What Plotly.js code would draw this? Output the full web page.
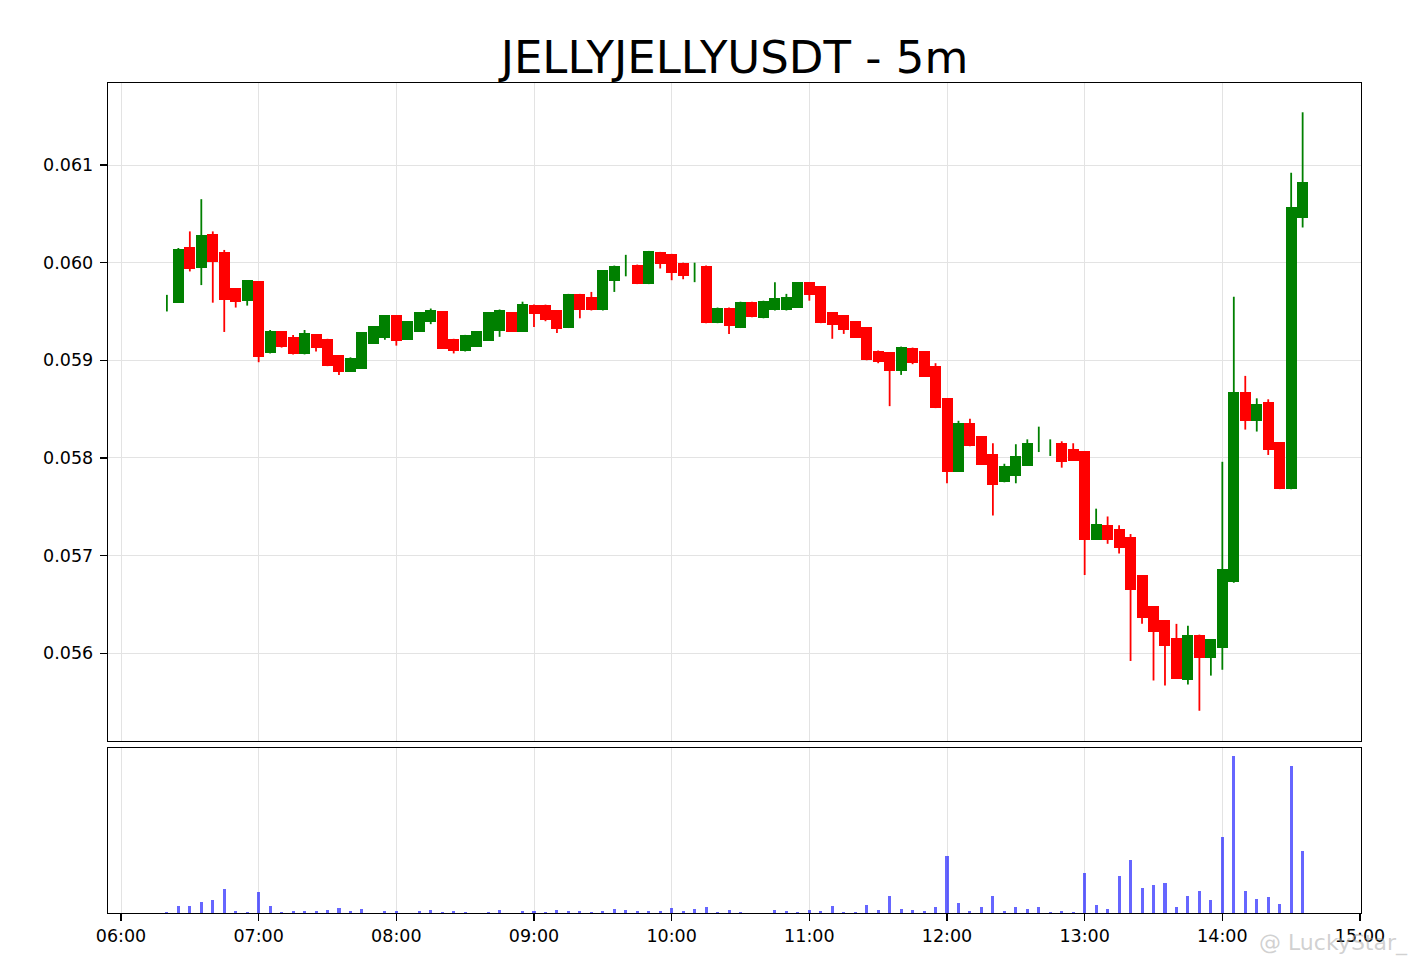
<!DOCTYPE html>
<html>
<head>
<meta charset="utf-8">
<script src="https://cdn.plot.ly/plotly-3.0.1.min.js"></script>
<style>
  html, body { margin: 0; padding: 0; background: #ffffff; }
  #chart { width: 1428px; height: 966px; }
</style>
</head>
<body>
<div id="chart"></div>
<script>
const DAY = '2025-01-01 ';
const times = [
  '06:20','06:25','06:30','06:35','06:40','06:45','06:50','06:55',
  '07:00','07:05','07:10','07:15','07:20','07:25','07:30','07:35','07:40','07:45','07:50','07:55',
  '08:00','08:05','08:10','08:15','08:20','08:25','08:30','08:35','08:40','08:45','08:50','08:55',
  '09:00','09:05','09:10','09:15','09:20','09:25','09:30','09:35','09:40','09:45','09:50','09:55',
  '10:00','10:05','10:10','10:15','10:20','10:25','10:30','10:35','10:40','10:45','10:50','10:55',
  '11:00','11:05','11:10','11:15','11:20','11:25','11:30','11:35','11:40','11:45','11:50','11:55',
  '12:00','12:05','12:10','12:15','12:20','12:25','12:30','12:35','12:40','12:45','12:50','12:55',
  '13:00','13:05','13:10','13:15','13:20','13:25','13:30','13:35','13:40','13:45','13:50','13:55',
  '14:00','14:05','14:10','14:15','14:20','14:25','14:30','14:35'
];
const openP = [
  0.05960,0.05959,0.06016,0.05995,0.06029,0.06011,0.05974,0.05961,
  0.05981,0.05907,0.05930,0.05924,0.05906,0.05927,0.05922,0.05905,0.05888,0.05891,0.05917,0.05923,
  0.05946,0.05921,0.05929,0.05939,0.05950,0.05922,0.05910,0.05914,0.05920,0.05930,0.05949,0.05929,
  0.05957,0.05957,0.05951,0.05933,0.05968,0.05965,0.05951,0.05981,0.05993,0.05998,0.05978,0.06011,
  0.06009,0.06000,0.05990,0.05997,0.05938,0.05954,0.05933,0.05960,0.05943,0.05951,0.05951,0.05954,
  0.05980,0.05976,0.05949,0.05946,0.05940,0.05934,0.05910,0.05908,0.05889,0.05913,0.05909,0.05894,
  0.05861,0.05786,0.05836,0.05822,0.05804,0.05775,0.05781,0.05792,0.05820,0.05810,0.05815,0.05809,
  0.05807,0.05716,0.05731,0.05727,0.05719,0.05680,0.05648,0.05634,0.05616,0.05573,0.05619,0.05595,
  0.05605,0.05673,0.05867,0.05838,0.05857,0.05816,0.05768,0.06046
];
const highP = [
  0.05967,0.06015,0.06032,0.06065,0.06032,0.06013,0.05974,0.05982,
  0.05981,0.05931,0.05930,0.05926,0.05931,0.05927,0.05922,0.05905,0.05903,0.05929,0.05935,0.05946,
  0.05946,0.05940,0.05949,0.05953,0.05950,0.05922,0.05926,0.05930,0.05949,0.05952,0.05949,0.05960,
  0.05957,0.05957,0.05951,0.05968,0.05968,0.05970,0.05992,0.05997,0.06008,0.05998,0.06012,0.06011,
  0.06009,0.06000,0.06000,0.05997,0.05954,0.05954,0.05960,0.05960,0.05961,0.05980,0.05968,0.05980,
  0.05980,0.05976,0.05949,0.05946,0.05940,0.05934,0.05910,0.05908,0.05914,0.05913,0.05909,0.05897,
  0.05861,0.05838,0.05840,0.05822,0.05815,0.05794,0.05814,0.05819,0.05832,0.05819,0.05817,0.05815,
  0.05807,0.05748,0.05740,0.05731,0.05722,0.05680,0.05648,0.05634,0.05630,0.05628,0.05619,0.05614,
  0.05796,0.05965,0.05884,0.05861,0.05860,0.05816,0.06092,0.06154
];
const lowP = [
  0.05950,0.05959,0.05991,0.05977,0.05959,0.05929,0.05954,0.05956,
  0.05898,0.05907,0.05913,0.05906,0.05906,0.05909,0.05894,0.05885,0.05888,0.05891,0.05917,0.05921,
  0.05915,0.05921,0.05929,0.05937,0.05912,0.05907,0.05909,0.05914,0.05920,0.05924,0.05929,0.05929,
  0.05934,0.05940,0.05928,0.05933,0.05943,0.05951,0.05951,0.05970,0.05986,0.05978,0.05978,0.05994,
  0.05982,0.05983,0.05980,0.05938,0.05938,0.05927,0.05933,0.05944,0.05943,0.05951,0.05951,0.05954,
  0.05961,0.05938,0.05922,0.05927,0.05923,0.05900,0.05897,0.05853,0.05885,0.05896,0.05883,0.05851,
  0.05774,0.05786,0.05812,0.05793,0.05741,0.05775,0.05774,0.05792,0.05806,0.05802,0.05790,0.05797,
  0.05680,0.05716,0.05712,0.05702,0.05592,0.05630,0.05572,0.05567,0.05574,0.05568,0.05541,0.05577,
  0.05583,0.05672,0.05829,0.05827,0.05803,0.05768,0.05768,0.06036
];
const closeP = [
  0.05960,0.06014,0.05994,0.06028,0.06001,0.05962,0.05960,0.05982,
  0.05903,0.05930,0.05914,0.05906,0.05928,0.05913,0.05894,0.05888,0.05902,0.05929,0.05935,0.05946,
  0.05920,0.05940,0.05949,0.05951,0.05912,0.05910,0.05926,0.05930,0.05949,0.05951,0.05929,0.05958,
  0.05947,0.05941,0.05932,0.05968,0.05951,0.05951,0.05992,0.05997,0.05993,0.05978,0.06012,0.05999,
  0.05989,0.05986,0.05990,0.05938,0.05954,0.05935,0.05960,0.05944,0.05961,0.05964,0.05965,0.05980,
  0.05967,0.05938,0.05936,0.05931,0.05923,0.05900,0.05898,0.05889,0.05914,0.05897,0.05883,0.05851,
  0.05786,0.05836,0.05812,0.05793,0.05772,0.05792,0.05802,0.05815,0.05820,0.05810,0.05796,0.05797,
  0.05716,0.05732,0.05716,0.05708,0.05665,0.05636,0.05622,0.05607,0.05574,0.05619,0.05595,0.05614,
  0.05686,0.05867,0.05838,0.05855,0.05808,0.05768,0.06057,0.06083
];
const volume = [
  0.8,4.3,4.3,7.1,8.3,15,1.5,0.9,
  13.2,4.3,0.6,1.5,1.3,1.5,2.1,3.4,1.1,2.4,0.2,1.5,
  1.5,0.2,1.3,2.1,0.9,1.1,0.6,0.3,0.6,2.1,0.3,1.1,
  1.1,0.6,2.1,1.1,1.1,0.9,1.3,2.8,2.1,1.1,1.3,1.3,
  3.4,1.1,2.6,4.1,0.6,2.1,0.6,0.1,0.1,2.1,1.1,0.4,
  2.1,1.3,4.5,0.6,0.6,5.1,1.7,11.1,2.4,2.1,1.5,4.1,
  36.5,6.6,1.5,4.1,11.1,1.3,3.8,2.6,3.8,0.9,1.5,0.6,
  25.6,5.3,2.4,23.5,33.8,16.2,17.5,18.8,3.8,11.1,14.1,8.3,
  48.3,100,14.3,9.2,10.3,5.8,93.8,39.3
];
const priceTicks = [0.056, 0.057, 0.058, 0.059, 0.060, 0.061];
const priceTickText = ['0.056', '0.057', '0.058', '0.059', '0.060', '0.061'];
const hourTicks = ['06:00','07:00','08:00','09:00','10:00','11:00','12:00','13:00','14:00','15:00'];
const chartTitle = 'JELLYJELLYUSDT - 5m';
const watermark = '@ LuckyStar_';

const UP = '#008000', DOWN = '#ff0000';
const xs = times.map(t => DAY + t);
const isUp = closeP.map((c, i) => c >= openP[i]);

// bodies
const bodyTrace = {
  type: 'bar', x: xs, base: openP, y: closeP.map((c, i) => c - openP[i]),
  width: 288000,
  marker: { color: isUp.map(u => u ? UP : DOWN), line: { width: 0 } },
  xaxis: 'x', yaxis: 'y', hoverinfo: 'skip', showlegend: false
};
// wicks
function wick(up) {
  const wx = [], wy = [];
  xs.forEach((x, i) => {
    if (isUp[i] === up) { wx.push(x, x, null); wy.push(lowP[i], highP[i], null); }
  });
  return { type: 'scatter', mode: 'lines', x: wx, y: wy,
    line: { color: up ? UP : DOWN, width: 1.8 }, xaxis: 'x', yaxis: 'y',
    hoverinfo: 'skip', showlegend: false, connectgaps: false };
}
const volTrace = {
  type: 'bar', x: xs, y: volume, width: 80000,
  marker: { color: 'rgba(0,0,255,0.6)', line: { width: 0 } },
  xaxis: 'x2', yaxis: 'y2', hoverinfo: 'skip', showlegend: false
};

const FONT = 'DejaVu Sans, Liberation Sans, sans-serif';
const xRange = [DAY + '05:54:20', DAY + '15:00:26'];
const tickvalsX = hourTicks.map(h => DAY + h);

const layout = {
  width: 1428, height: 966,
  margin: { l: 108, r: 67, t: 83, b: 53 },
  paper_bgcolor: '#ffffff', plot_bgcolor: '#ffffff',
  font: { family: FONT, size: 17.5, color: '#000000' },
  title: { text: chartTitle, font: { family: FONT, size: 45, color: '#000000' },
    x: 0.5, xref: 'paper', xanchor: 'center', y: 0.941, yref: 'container', yanchor: 'middle' },
  showlegend: false,
  hovermode: false,
  bargap: 0,
  xaxis: {
    type: 'date', range: xRange, domain: [0, 1], anchor: 'y',
    tickvals: tickvalsX, showticklabels: false, ticks: '',
    showgrid: true, gridcolor: '#e3e3e3', gridwidth: 1,
    showline: true, linecolor: '#000000', linewidth: 1.3, mirror: true,
    zeroline: false, fixedrange: true
  },
  yaxis: {
    domain: [0.2072, 1], range: [0.05510, 0.06184], anchor: 'x',
    tickvals: priceTicks, ticktext: priceTickText,
    ticks: 'outside', ticklen: 7, tickwidth: 1.2, tickcolor: '#000000',
    ticklabelstandoff: 3,
    showgrid: true, gridcolor: '#e3e3e3', gridwidth: 1,
    showline: true, linecolor: '#000000', linewidth: 1.3, mirror: true,
    zeroline: false, fixedrange: true
  },
  xaxis2: {
    type: 'date', range: xRange, domain: [0, 1], anchor: 'y2', matches: 'x',
    tickvals: tickvalsX, ticktext: hourTicks,
    ticks: 'outside', ticklen: 7, tickwidth: 1.2, tickcolor: '#000000',
    showgrid: true, gridcolor: '#e3e3e3', gridwidth: 1,
    showline: true, linecolor: '#000000', linewidth: 1.3, mirror: true,
    zeroline: false, fixedrange: true
  },
  yaxis2: {
    domain: [0, 0.1988], range: [0, 105], anchor: 'x2',
    showticklabels: false, ticks: '', showgrid: false,
    showline: true, linecolor: '#000000', linewidth: 1.3, mirror: true,
    zeroline: false, fixedrange: true
  },
  annotations: [{
    text: watermark, xref: 'paper', yref: 'paper', x: 0.978, y: -0.036,
    xanchor: 'center', yanchor: 'middle', showarrow: false,
    font: { family: FONT, size: 22, color: 'rgba(170,170,170,0.55)' }
  }]
};

Plotly.newPlot('chart', [bodyTrace, wick(true), wick(false), volTrace], layout,
  { displayModeBar: false, staticPlot: true });
</script>
</body>
</html>
